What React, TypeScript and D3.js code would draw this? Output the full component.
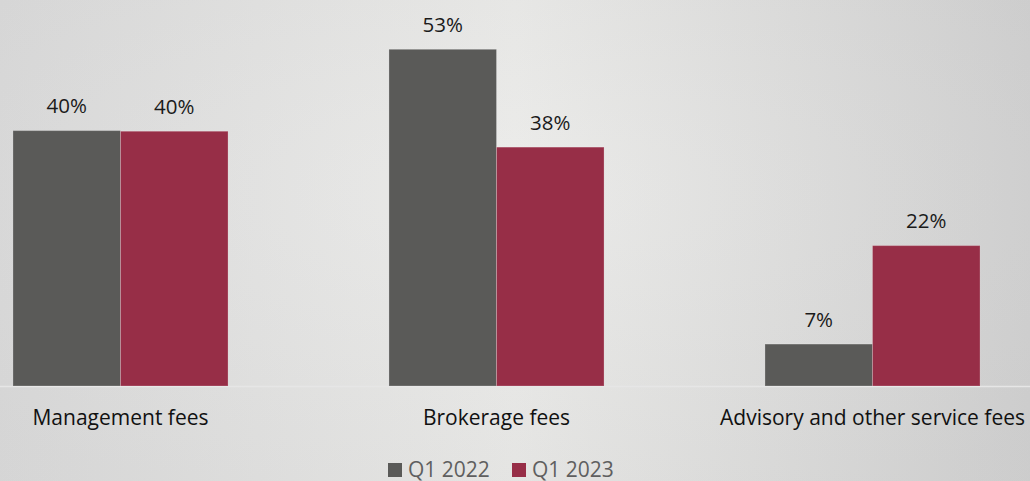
import React from 'react';
import * as d3 from 'd3';

const categories = ['Management fees', 'Brokerage fees', 'Advisory and other service fees'];
const seriesNames = ['Q1 2022', 'Q1 2023'];
const q1_2022 = [40.2, 53.0, 6.6];
const q1_2023 = [40.1, 37.6, 22.1];
const seriesColors = ['#5a5a58', '#972e47'];

const width = 1030;
const height = 481;
const baseline = 386;
const font = '"Open Sans", sans-serif';

const App: React.FC = () => {
    const series = [q1_2022, q1_2023];

    // band spans past the picture edges, like the cropped original
    const x0 = d3.scaleBand<string>()
        .domain(categories)
        .range([-67.5, 1060.5])
        .paddingInner(0.428)
        .paddingOuter(0.214);

    const x1 = d3.scaleBand<string>()
        .domain(seriesNames)
        .range([0, x0.bandwidth()]);

    const y = d3.scaleLinear()
        .domain([0, 60])
        .range([baseline, baseline - 60 * 6.353]);

    return (
        <svg width={width} height={height} style={{ position: 'absolute', left: 0, top: 0, display: 'block' }}>
            <defs>
                <linearGradient id="bg" x1="0" x2="1" y1="0" y2="0">
                    <stop offset="0" stopColor="#d9d9d9" />
                    <stop offset="0.5" stopColor="#e9e9e7" />
                    <stop offset="1" stopColor="#cfcfcf" />
                </linearGradient>
                <radialGradient id="shade" cx="0.5" cy="0.4" r="0.7">
                    <stop offset="0" stopColor="#ffffff" stopOpacity="0.15" />
                    <stop offset="1" stopColor="#bbbbbb" stopOpacity="0.12" />
                </radialGradient>
            </defs>
            <rect width={width} height={height} fill="url(#bg)" />
            <rect width={width} height={height} fill="url(#shade)" />

            <line x1={0} x2={width} y1={baseline + 0.5} y2={baseline + 0.5} stroke="#e6e6e6" strokeWidth={1.5} />

            {categories.map((c, i) => (
                <g key={c} transform={`translate(${x0(c)},0)`}>
                    {seriesNames.map((s, j) => {
                        const v = series[j][i];
                        const bx = x1(s) || 0;
                        return (
                            <g key={s}>
                                <rect
                                    x={bx}
                                    y={y(v)}
                                    width={x1.bandwidth()}
                                    height={baseline - y(v)}
                                    fill={seriesColors[j]}
                                    stroke="rgba(255,255,255,0.22)"
                                    strokeWidth={1}
                                />
                                <text
                                    x={bx + x1.bandwidth() / 2}
                                    y={y(v) - 17.5}
                                    textAnchor="middle"
                                    fontFamily={font}
                                    fontSize={20.5}
                                    fill="#1a1a1a"
                                >
                                    {Math.round(v)}%
                                </text>
                            </g>
                        );
                    })}
                    <text
                        x={x0.bandwidth() / 2}
                        y={425}
                        textAnchor="middle"
                        fontFamily={font}
                        fontSize={21}
                        fill="#111"
                    >
                        {c}
                    </text>
                </g>
            ))}

            <g transform="translate(388,463)">
                {seriesNames.map((s, j) => (
                    <g key={s} transform={`translate(${j * 124},0)`}>
                        <rect width={14} height={14} fill={seriesColors[j]} />
                        <text x={20} y={14} fontFamily={font} fontSize={21} fill="#5f5f5f">{s}</text>
                    </g>
                ))}
            </g>
        </svg>
    );
};

export default App;
